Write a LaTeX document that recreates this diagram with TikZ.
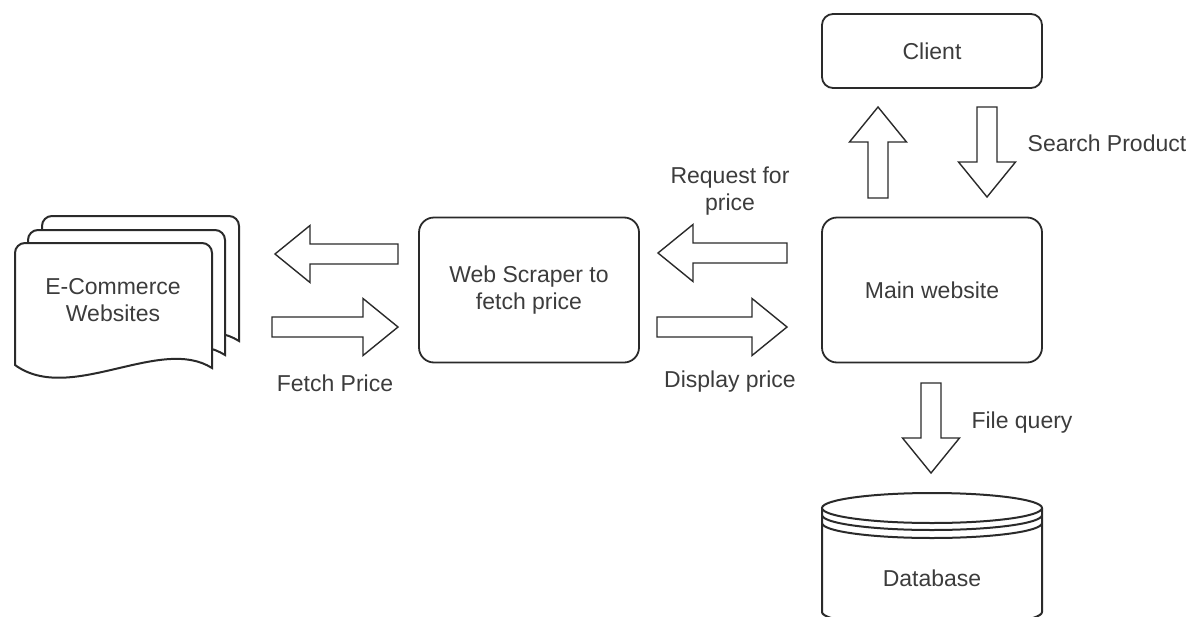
\documentclass[tikz,border=0pt]{standalone}
\usepackage{fontspec}
\setmainfont{Liberation Sans}
\definecolor{linegray}{HTML}{2A2A2A}
\definecolor{textgray}{HTML}{3C3C3C}

\begin{document}
\begin{tikzpicture}[x=1pt,y=-1pt,font=\fontsize{23}{27}\selectfont]
\tikzset{box/.style = {shape=rectangle,draw=linegray,line width=1.8pt,rounded corners=15pt,minimum width=220pt,minimum height=145pt,align=center,text=textgray},
    lbl/.style = {text=textgray,align=center},
    sheet/.style = {draw=linegray,fill=white,line width=2pt},
    pics/fatarrow/.style = {code={
        \draw[draw=linegray,line width=1.4pt,line join=miter,fill=white] (0,-10) -- (#1-35,-10) -- (#1-35,-28.5) -- (#1,0) -- (#1-35,28.5) -- (#1-35,10) -- (0,10) -- cycle;}}}
\useasboundingbox (0,0) rectangle (1199,616);
% boxes
\node[box,rounded corners=11pt,minimum height=74pt] (client) at (932,51) {Client};
\node[box] (main) at (932,290) {Main website};
\node[box] (scraper) at (529,290) {Web Scraper to\\fetch price};
% stack of pages
\foreach \d in {27,13,0} {
    \draw[sheet,shift={(\d,-\d)}] (15,365) {[rounded corners=10pt] -- (15,243) -- (212,243)} -- (212,368)
        .. controls (160,335) and (70,405) .. (15,365) -- cycle;
}
\node[lbl] (shop) at (113,300) {E-Commerce\\Websites};
% database
\draw[sheet] (822,508) -- (822,612) arc[start angle=180,end angle=360,x radius=110pt,y radius=15pt] -- (1042,508);
\draw[sheet] (932,508) ellipse[x radius=110pt,y radius=15pt];
\foreach \h in {515,523} {
    \draw[sheet,fill=none] (822,\h) arc[start angle=180,end angle=360,x radius=110pt,y radius=15pt];
}
\node[lbl] (db) at (932,578) {Database};
% block arrows
\foreach \x/\y/\r/\l in {398/254/180/123,272/327/0/126,787/253/180/129,657/327/0/130,878/198/90/91,987/107/-90/90,931/383/-90/90} {
    \pic[rotate=\r] at (\x,\y) {fatarrow=\l};
}
% labels
\node[lbl] (fetch) at (335,383) {Fetch Price};
\node[lbl] (display) at (730,382) {Display price};
\node[lbl] (request) at (730,191) {Request for\\price};
\node[lbl] (search) at (1107,143) {Search Product};
\node[lbl] (query) at (1022,423) {File query};
\end{tikzpicture}
\end{document}
